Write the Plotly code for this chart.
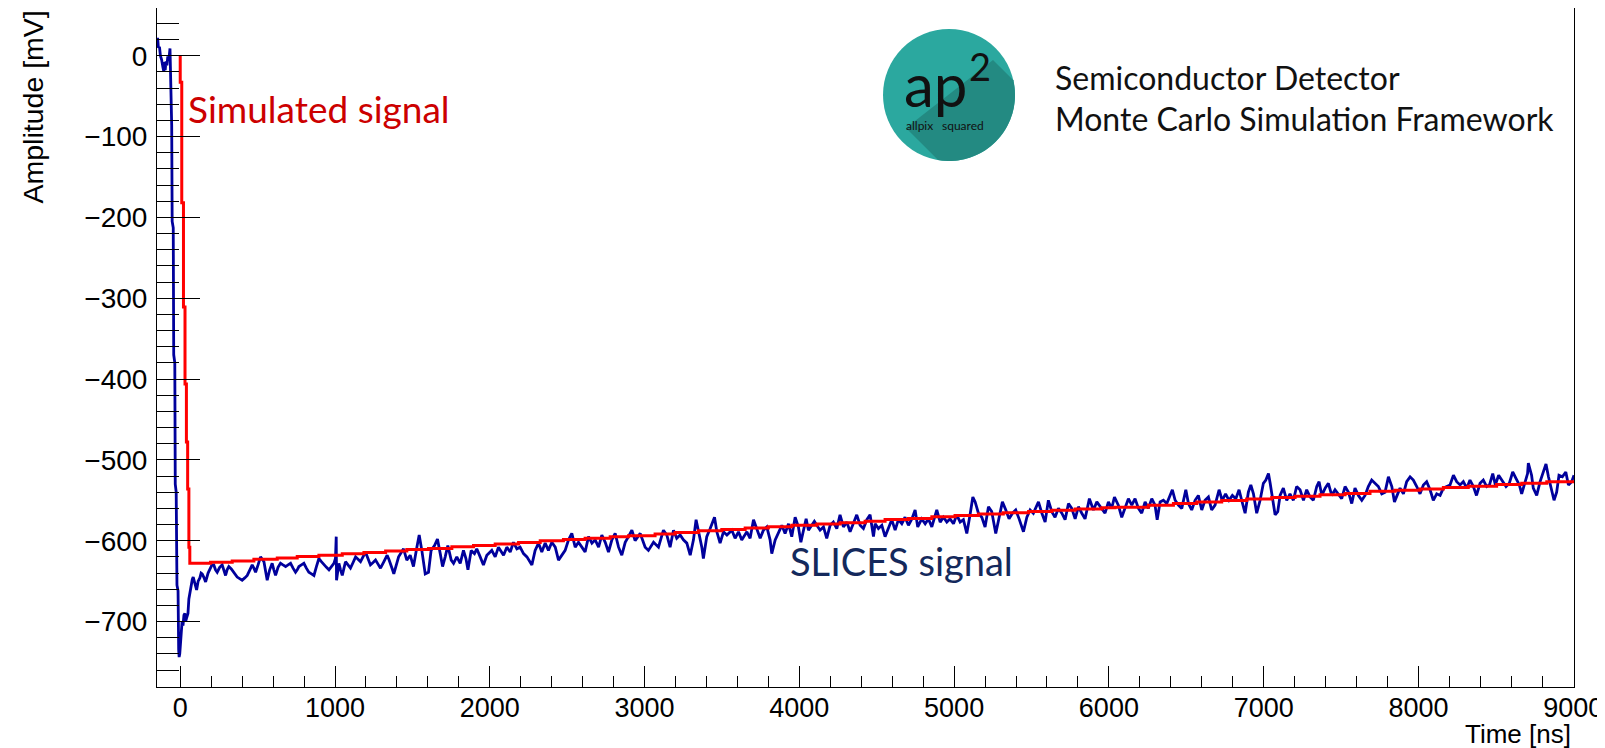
import numpy as np
import plotly.graph_objects as go

# ---------------- data ----------------
blue_time_ns = [
    -150, -146, -141, -134, -128, -120, -112, -106, -102, -97,
    -92, -86, -80, -74, -66, -63, -60, -55, -52, -45,
    -42, -35, -32, -26, -21, -14, -10, -7, -3, 2,
    6, 12, 18, 24, 30, 35, 42, 50, 56, 62,
    70, 78, 84, 95, 106, 116, 127, 135, 142, 152,
    164, 180, 196, 205, 217, 228, 239, 255, 271, 282,
    293, 303, 314, 330, 347, 358, 368, 384, 400, 417,
    433, 450, 465, 476, 487, 503, 519, 530, 541, 552,
    562, 578, 594, 605, 616, 632, 648, 664, 681, 697,
    713, 729, 745, 756, 767, 783, 799, 815, 831, 848,
    864, 880, 896, 912, 928, 945, 961, 977, 993, 1003,
    1008, 1010, 1017, 1025, 1036, 1047, 1058, 1068, 1084, 1100,
    1117, 1133, 1149, 1165, 1181, 1197, 1213, 1229, 1246, 1262,
    1278, 1294, 1316, 1337, 1348, 1359, 1370, 1380, 1395, 1411,
    1443, 1464, 1486, 1507, 1529, 1544, 1561, 1583, 1604, 1621,
    1643, 1662, 1680, 1695, 1712, 1729, 1751, 1766, 1787, 1809,
    1830, 1846, 1859, 1880, 1901, 1916, 1938, 1959, 1981, 2013,
    2035, 2056, 2089, 2110, 2132, 2153, 2175, 2196, 2218, 2240,
    2272, 2293, 2315, 2336, 2358, 2379, 2401, 2423, 2444, 2466,
    2487, 2509, 2530, 2552, 2573, 2595, 2616, 2638, 2660, 2681,
    2703, 2724, 2746, 2767, 2789, 2810, 2832, 2853, 2875, 2896,
    2918, 2939, 2972, 3004, 3025, 3058, 3090, 3122, 3144, 3165,
    3187, 3208, 3230, 3251, 3273, 3295, 3316, 3333, 3353, 3370,
    3380, 3402, 3424, 3452, 3467, 3488, 3510, 3532, 3564, 3585,
    3607, 3628, 3661, 3682, 3704, 3725, 3747, 3768, 3790, 3811,
    3822, 3844, 3865, 3887, 3908, 3930, 3951, 3973, 3994, 4010,
    4027, 4044, 4059, 4081, 4097, 4113, 4134, 4156, 4177, 4199,
    4220, 4242, 4263, 4285, 4307, 4328, 4350, 4371, 4393, 4414,
    4436, 4457, 4479, 4490, 4511, 4533, 4554, 4576, 4597, 4619,
    4640, 4662, 4683, 4705, 4727, 4748, 4765, 4791, 4813, 4834,
    4856, 4888, 4910, 4931, 4953, 4974, 4996, 5017, 5039, 5060,
    5082, 5103, 5121, 5136, 5157, 5179, 5200, 5222, 5243, 5269,
    5291, 5312, 5334, 5355, 5377, 5398, 5420, 5448, 5470, 5491,
    5512, 5545, 5567, 5588, 5609, 5631, 5652, 5674, 5696, 5717,
    5739, 5760, 5782, 5803, 5825, 5846, 5874, 5900, 5922, 5954,
    5975, 5997, 6018, 6036, 6061, 6083, 6105, 6126, 6148, 6169,
    6191, 6212, 6234, 6255, 6277, 6298, 6312, 6331, 6352, 6374,
    6395, 6410, 6428, 6449, 6471, 6497, 6514, 6535, 6557, 6578,
    6600, 6621, 6643, 6664, 6686, 6712, 6732, 6754, 6776, 6798,
    6820, 6841, 6858, 6880, 6901, 6917, 6934, 6955, 6977, 6998,
    7014, 7031, 7042, 7057, 7074, 7091, 7106, 7127, 7149, 7170,
    7192, 7213, 7235, 7257, 7278, 7300, 7321, 7343, 7358, 7376,
    7397, 7418, 7440, 7461, 7483, 7504, 7526, 7548, 7569, 7590,
    7612, 7634, 7655, 7676, 7698, 7720, 7741, 7763, 7784, 7806,
    7828, 7845, 7860, 7881, 7903, 7924, 7946, 7967, 7989, 8010,
    8032, 8053, 8075, 8096, 8118, 8140, 8161, 8183, 8204, 8226,
    8247, 8269, 8290, 8312, 8333, 8355, 8375, 8398, 8419, 8441,
    8459, 8480, 8497, 8518, 8540, 8566, 8587, 8609, 8630, 8652,
    8667, 8683, 8705, 8710, 8731, 8742, 8764, 8786, 8807, 8824,
    8840, 8862, 8876, 8893, 8908, 8930, 8952, 8969, 8990, 9005,
]
blue_amp_mv = [
    18, 22, 10, 11, 0, -5, -14, -20, -8, -18,
    -7, -12, -1, -6, 9, -20, -80, -86, -205, -213,
    -370, -380, -530, -540, -655, -662, -735, -744, -740, -725,
    -715, -700, -705, -692, -690, -700, -695, -690, -672, -665,
    -655, -648, -645, -652, -661, -650, -646, -640, -641, -645,
    -651, -640, -634, -630, -630, -636, -639, -633, -630, -638,
    -643, -636, -632, -635, -639, -642, -645, -647, -649, -646,
    -643, -636, -630, -634, -639, -630, -620, -623, -626, -638,
    -649, -636, -628, -636, -643, -633, -628, -630, -632, -630,
    -628, -634, -639, -636, -632, -630, -628, -634, -639, -641,
    -643, -632, -622, -626, -630, -633, -636, -632, -628, -622,
    -595, -649, -638, -628, -636, -643, -634, -626, -630, -634,
    -627, -620, -623, -626, -620, -614, -622, -630, -627, -624,
    -629, -634, -626, -618, -623, -628, -635, -641, -630, -620,
    -610, -624, -618, -632, -608, -593, -612, -641, -639, -612,
    -606, -598, -616, -632, -620, -606, -624, -628, -620, -628,
    -612, -622, -636, -612, -616, -610, -620, -630, -618, -612,
    -620, -608, -618, -608, -614, -602, -610, -608, -616, -620,
    -630, -612, -603, -614, -603, -612, -602, -608, -624, -618,
    -612, -599, -591, -608, -602, -608, -614, -595, -603, -599,
    -608, -593, -602, -614, -599, -591, -608, -618, -602, -595,
    -587, -600, -591, -608, -612, -602, -608, -587, -593, -608,
    -587, -597, -593, -599, -603, -618, -599, -574, -591, -608,
    -622, -595, -585, -571, -589, -603, -589, -593, -587, -597,
    -589, -599, -589, -597, -574, -585, -597, -587, -583, -599,
    -616, -599, -589, -581, -591, -579, -595, -571, -583, -602,
    -587, -573, -587, -581, -576, -581, -587, -583, -597, -581,
    -577, -585, -568, -583, -577, -589, -579, -568, -581, -585,
    -574, -568, -595, -579, -585, -581, -595, -585, -574, -587,
    -574, -579, -571, -581, -573, -562, -583, -573, -579, -573,
    -583, -562, -577, -571, -577, -573, -579, -568, -577, -574,
    -591, -568, -546, -552, -566, -571, -583, -558, -564, -591,
    -573, -552, -562, -573, -566, -562, -573, -589, -571, -562,
    -566, -552, -566, -577, -550, -564, -571, -560, -566, -574,
    -554, -560, -573, -558, -566, -573, -548, -562, -552, -560,
    -566, -552, -560, -546, -556, -571, -558, -548, -556, -548,
    -560, -566, -552, -560, -548, -556, -574, -552, -550, -554,
    -544, -537, -550, -556, -560, -537, -554, -562, -550, -544,
    -562, -550, -546, -562, -556, -537, -550, -542, -550, -544,
    -548, -537, -550, -566, -540, -531, -542, -566, -550, -529,
    -525, -517, -529, -550, -568, -564, -544, -535, -550, -542,
    -550, -533, -537, -550, -537, -546, -550, -533, -527, -544,
    -535, -529, -544, -537, -542, -548, -533, -540, -554, -535,
    -544, -550, -544, -533, -525, -529, -533, -542, -540, -521,
    -533, -552, -544, -535, -542, -527, -521, -525, -533, -542,
    -531, -527, -537, -550, -542, -544, -535, -533, -531, -519,
    -527, -531, -527, -535, -525, -533, -544, -529, -525, -533,
    -531, -517, -531, -519, -525, -533, -529, -515, -523, -531,
    -542, -531, -517, -504, -519, -535, -544, -527, -515, -505,
    -521, -537, -550, -540, -519, -521, -515, -531, -527, -519,
]
assert len(blue_time_ns) == len(blue_amp_mv)

red_time_ns = [
    0, 0, 10, 21, 31, 40, 48, 56, 62,
    196, 336, 476, 627, 756, 896, 1047, 1187, 1327,
    1464, 1604, 1755, 1895, 2035, 2186, 2326, 2476, 2616, 2778, 2896,
    3068, 3197, 3348, 3499, 3650, 3800, 3951, 4113, 4263, 4425,
    4554, 4705, 4856, 5006, 5157, 5318, 5481, 5631, 5782, 5954,
    6040, 6255, 6417, 6568, 6729, 6890, 7052, 7203, 7364, 7526,
    7687, 7849, 8010, 8161, 8322, 8505, 8667, 8829, 9005,
]
red_amp_mv = [
    0, -33, -182, -311, -406, -478, -536, -608, -628,
    -626.6, -625, -623, -621.3, -619.6, -618, -616, -614.6, -612.6,
    -611, -609.6, -607.5, -605.8, -604.2, -602.1, -600, -598.4, -597.1, -595, -593.8,
    -591.7, -590, -587.6, -586, -584.3, -582.6, -581, -579.3, -577.7, -576,
    -573.8, -572.5, -570.5, -568.8, -567.1, -565.5, -563.8, -562.2, -560.9, -559.2,
    -558.5, -556.1, -554.1, -552, -550.4, -548.3, -546.7, -545, -543.3, -541.7,
    -538.8, -537.5, -535.9, -534.2, -532.6, -530.5, -528.8, -527.2, -526.3,
]
assert len(red_time_ns) == len(red_amp_mv)

x_range = [-150, 9005]
y_range = [-781, 59]

# ---------------- geometry ----------------
# The page body adds an 8 px margin, so the figure is drawn 8 px smaller and
# every reference pixel position is shifted by that amount.
OFF = 8
FIG_W, FIG_H = 1605 - OFF, 748 - OFF
PL, PR, PT, PB = 157, 1574, 8, 687          # plot frame in reference pixels
M_L, M_R = PL - OFF, FIG_W - (PR - OFF)
M_T, M_B = PT - OFF, FIG_H - (PB - OFF)


def px(x):
    return (x - PL) / (PR - PL)


def py(y):
    return (PB - y) / (PB - PT)


HELV = "Liberation Sans, Arial, sans-serif"
AX_FONT = dict(family=HELV, size=28, color="black")
X_FONT = dict(family=HELV, size=27, color="black")

fig = go.Figure()
fig.add_trace(go.Scatter(x=blue_time_ns, y=blue_amp_mv, mode="lines",
                         line=dict(color="#00009c", width=2.8), name="SLICES signal",
                         showlegend=False))
fig.add_trace(go.Scatter(x=red_time_ns, y=red_amp_mv, mode="lines",
                         line=dict(color="#ff0000", width=3, shape="hv"),
                         name="Simulated signal", showlegend=False))

fig.update_xaxes(range=x_range, tickmode="linear", tick0=0, dtick=1000,
                 ticks="inside", ticklen=21, tickwidth=1, tickcolor="black",
                 showline=True, linecolor="black", linewidth=1, mirror=True,
                 showgrid=False, zeroline=False, tickfont=X_FONT,
                 ticklabelstandoff=-3,
                 minor=dict(tick0=0, dtick=200, ticks="inside", ticklen=11,
                            tickcolor="black", tickwidth=1, showgrid=False))
fig.update_yaxes(range=y_range, tickmode="linear", tick0=0, dtick=100,
                 ticks="inside", ticklen=43, tickwidth=1, tickcolor="black",
                 showline=True, linecolor="black", linewidth=1, mirror=True,
                 showgrid=False, zeroline=False, tickfont=AX_FONT,
                 ticklabelstandoff=3,
                 minor=dict(tick0=0, dtick=20, ticks="inside", ticklen=22,
                            tickcolor="black", tickwidth=1, showgrid=False))

# ---------------- logo (decoration) ----------------
cx, cy, r = 949.0, 95.0, 66.0
shapes = [dict(type="circle", xref="paper", yref="paper",
               x0=px(cx - r), x1=px(cx + r), y0=py(cy + r), y1=py(cy - r),
               fillcolor="#2ba89f", line=dict(width=0), layer="above")]


def hit(ax, ay):
    d = np.array([1.0, 1.0]) / np.sqrt(2)
    a = np.array([ax - cx, ay - cy])
    b = a @ d
    c = a @ a - r * r
    s = -b + np.sqrt(b * b - c)
    p = a + s * d
    return np.arctan2(p[1], p[0])


A = (993.0, 60.0)
B = (906.0, 128.0)
tA = hit(*A)
tB = hit(*B)
pts = [A]
for t in np.linspace(tA, tB, 40):
    pts.append((cx + r * np.cos(t), cy + r * np.sin(t)))
pts.append(B)
path = "M " + " L ".join(f"{px(x):.5f},{py(y):.5f}" for x, y in pts) + " Z"
shapes.append(dict(type="path", xref="paper", yref="paper", path=path,
                   fillcolor="#238a82", line=dict(width=0), layer="above"))
# stray tick at the right edge of the canvas
shapes.append(dict(type="line", xref="paper", yref="paper",
                   x0=px(1599), x1=px(1605), y0=py(307.5), y1=py(307.5),
                   line=dict(color="black", width=1.5)))

LATO = "Lato, Noto Sans, sans-serif"
ann = [
    dict(text="Simulated signal", x=px(186), y=py(108), xanchor="left", yanchor="middle",
         font=dict(family=LATO, size=37, color="#cc0000")),
    dict(text="SLICES signal", x=px(788), y=py(561), xanchor="left", yanchor="middle",
         font=dict(family=LATO, size=38, color="#14295c")),
    dict(text="Semiconductor Detector", x=px(1053), y=py(78), xanchor="left", yanchor="middle",
         font=dict(family=LATO, size=32, color="#111111")),
    dict(text="Monte Carlo Simulation Framework", x=px(1053), y=py(119), xanchor="left",
         yanchor="middle", font=dict(family=LATO, size=32, color="#111111")),
    dict(text="ap", x=px(935), y=py(84), xanchor="center", yanchor="middle",
         font=dict(family=LATO, size=60, color="#111111")),
    dict(text="2", x=px(980), y=py(66), xanchor="center", yanchor="middle",
         font=dict(family=LATO, size=38, color="#111111")),
    dict(text="allpix", x=px(919), y=py(125), xanchor="center", yanchor="middle",
         font=dict(family=LATO, size=12, color="#111111")),
    dict(text="squared", x=px(963), y=py(125), xanchor="center", yanchor="middle",
         font=dict(family=LATO, size=12, color="#111111")),
    dict(text="Amplitude [mV]", x=px(32), y=py(9), xanchor="center", yanchor="top",
         textangle=-90, font=dict(family=HELV, size=28.5, color="black")),
    dict(text="Time [ns]", x=px(1573), y=py(734), xanchor="right", yanchor="middle",
         font=dict(family=HELV, size=26, color="black")),
]
for a in ann:
    a.update(xref="paper", yref="paper", showarrow=False)

fig.update_layout(width=FIG_W, height=FIG_H,
                  margin=dict(l=M_L, r=M_R, t=M_T, b=M_B, pad=0),
                  paper_bgcolor="white", plot_bgcolor="white",
                  shapes=shapes, annotations=ann, showlegend=False)

fig.write_html("out.html")
